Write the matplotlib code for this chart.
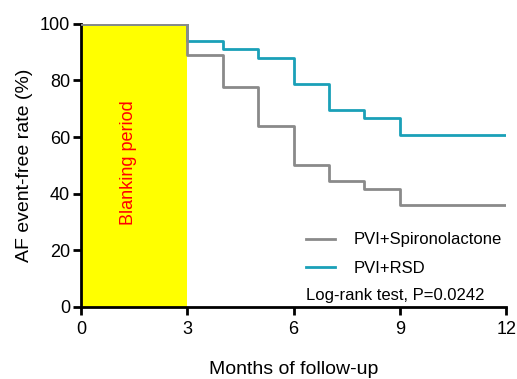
import matplotlib
matplotlib.use("Agg")
import matplotlib.pyplot as plt
from matplotlib.patches import Rectangle

plt.rcParams['font.family'] = ['Liberation Sans', 'DejaVu Sans']

months = [0, 3, 4, 5, 6, 7, 8, 9, 12]
spiro = [100, 88.9, 77.8, 63.9, 50.0, 44.4, 41.7, 36.1, 36.1]
rsd = [100, 94.0, 91.0, 88.0, 78.8, 69.6, 66.7, 60.8, 60.8]
labels = ["PVI+Spironolactone", "PVI+RSD"]
xticks = [0, 3, 6, 9, 12]
yticks = [0, 20, 40, 60, 80, 100]

fig = plt.figure(figsize=(5.17, 3.79), dpi=100)
ax = fig.add_axes([0.157, 0.19, 0.822, 0.747])

ax.add_patch(Rectangle((0, 0), 3, 100, facecolor='#ffff00', edgecolor='none', zorder=0))
ax.step(months, rsd, where='post', color='#1aa0b8', lw=2.0, label=labels[1], zorder=2)
ax.step(months, spiro, where='post', color='#8a8a8a', lw=2.0, label=labels[0], zorder=3)

ax.text(1.33, 51, "Blanking period", rotation=90, color='red', fontsize=13,
        ha='center', va='center')

ax.set_xlim(0, 12)
ax.set_ylim(0, 100)
ax.set_xticks(xticks)
ax.set_yticks(yticks)
ax.tick_params(direction='out', length=6, width=2, labelsize=13)
ax.tick_params(axis='x', pad=4)
ax.tick_params(axis='y', pad=2)
for s in ['top', 'right']:
    ax.spines[s].set_visible(False)
for s in ['left', 'bottom']:
    ax.spines[s].set_linewidth(2)

ax.set_ylabel("AF event-free rate (%)", fontsize=14, labelpad=5)
ax.set_xlabel("Months of follow-up", fontsize=14, labelpad=17)

handles, labs = ax.get_legend_handles_labels()
order = [1, 0]
ax.legend([handles[i] for i in order], [labs[i] for i in order],
          loc='center left', bbox_to_anchor=(0.529, 0.187), frameon=False,
          borderpad=0, borderaxespad=0,
          fontsize=12, handlelength=1.75, handletextpad=1.08, labelspacing=0.8)
ax.text(6.35, 4, "Log-rank test, P=0.0242", fontsize=12, ha='left', va='center')

fig.savefig("out.png", dpi=100)
